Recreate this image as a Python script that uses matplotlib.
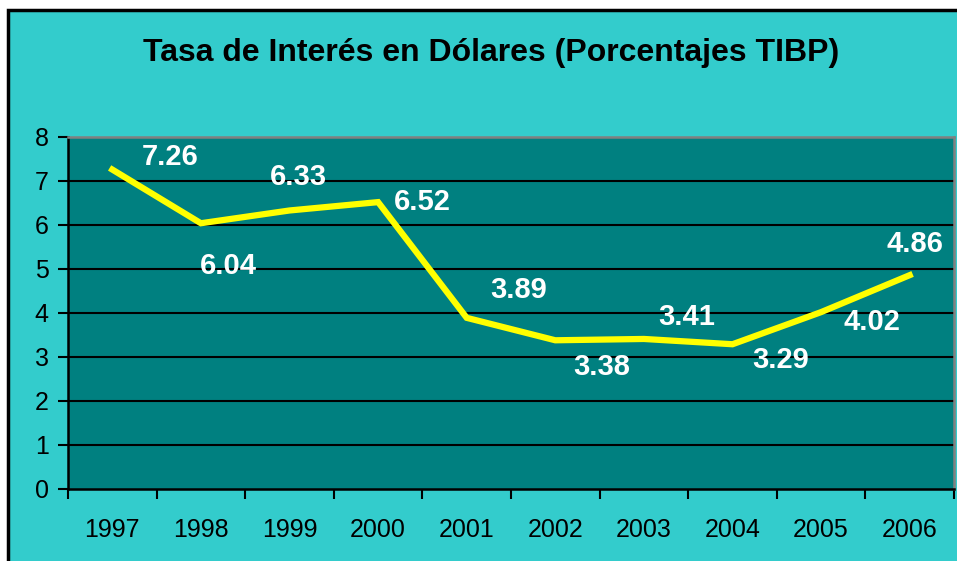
#!/usr/bin/env python3
# coding: utf-8

import matplotlib
matplotlib.use("Agg")
import matplotlib.pyplot as plt
import matplotlib.patches as patches
import numpy as np

years = ["1997", "1998", "1999", "2000", "2001", "2002", "2003", "2004", "2005", "2006"]
rates = [7.26, 6.04, 6.33, 6.52, 3.89, 3.38, 3.41, 3.29, 4.02, 4.86]
label_texts = ["7.26", "6.04", "6.33", "6.52", "3.89", "3.38", "3.41", "3.29", "4.02", "4.86"]

# where each data label sits relative to its point (pixels, y up)
label_offsets = [(58, 13), (27, -43), (9, 33), (44, 0), (52, 28),
                 (46, -27), (43, 22), (48, -16), (51, -10), (5, 31)]

plt.rcParams["font.family"] = ["Liberation Sans", "DejaVu Sans"]

W, H = 957, 561
fig = plt.figure(figsize=(W / 100, H / 100), dpi=100, facecolor="white")

# cyan chart area with black frame (cut off at right/bottom)
frame = patches.Rectangle((8 / W, -0.05), 1.2, (H - 10) / H + 0.05,
                          transform=fig.transFigure, facecolor="#33CCCC",
                          edgecolor="black", linewidth=2.5, zorder=-10)
fig.patches.append(frame)

left, right, top, bottom = 68, 954, 137, 489
ax = fig.add_axes([left / W, (H - bottom) / H, (right - left) / W, (bottom - top) / H])
ax.set_facecolor("#008080")

x = np.arange(len(years))
ax.set_xlim(-0.5, len(years) - 0.5)
ax.set_ylim(0, 8)

# grid lines
for yv in range(1, 8):
    ax.axhline(yv, color="black", linewidth=1.5, zorder=1)

ax.plot(x, rates, color="#FFFF00", linewidth=4.5, solid_joinstyle="miter", zorder=3)

for xi, yi, txt, (dx, dy) in zip(x, rates, label_texts, label_offsets):
    ax.annotate(txt, (xi, yi), xytext=(dx, dy), textcoords="offset pixels",
                ha="center", va="center", color="white", fontsize=21,
                fontweight="bold", zorder=4)

# axes styling
ax.spines["left"].set_color("black")
ax.spines["bottom"].set_color("black")
ax.spines["left"].set_linewidth(1.8)
ax.spines["bottom"].set_linewidth(1.8)
ax.spines["top"].set_color("#808080")
ax.spines["right"].set_color("#808080")
ax.spines["top"].set_linewidth(1.8)
ax.spines["right"].set_linewidth(1.8)

ax.set_yticks(range(0, 9))
ax.tick_params(axis="y", direction="out", length=7, width=1.5, pad=7,
               labelsize=18, colors="black")

ax.set_xticks(x)
ax.set_xticklabels(years)
ax.set_xticks(np.arange(-0.5, len(years)), minor=True)
ax.tick_params(axis="x", which="major", length=0, pad=21, labelsize=18)
ax.tick_params(axis="x", which="minor", direction="out", length=7, width=1.5)

fig.text(491 / W, 1 - 53 / H, "Tasa de Interés en Dólares (Porcentajes TIBP)",
         ha="center", va="center", fontsize=23, fontweight="bold", color="black")

fig.savefig("out.png", dpi=100, facecolor=fig.get_facecolor())
